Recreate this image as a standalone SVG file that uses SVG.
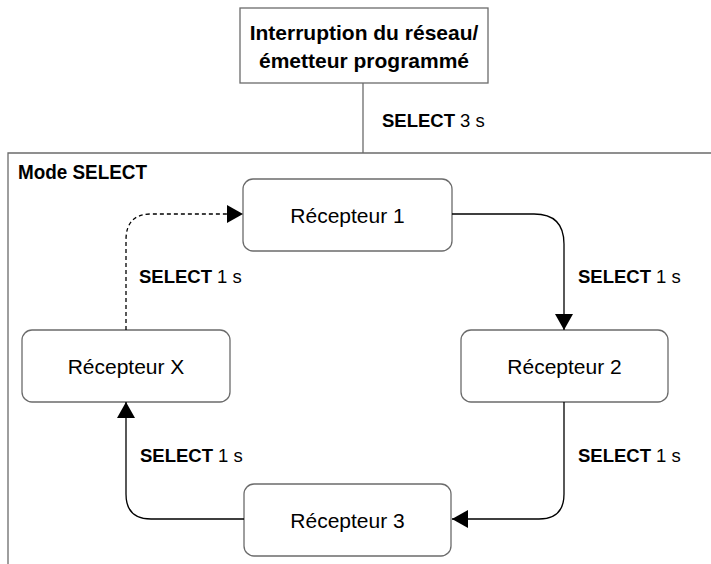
<svg xmlns="http://www.w3.org/2000/svg" width="711" height="564" viewBox="0 0 711 564">
<style>
text{font-family:"Liberation Sans",Arial,sans-serif;fill:#000}
.node{fill:#fff;stroke:#6b6b6b;stroke-width:1.3}
.title{font-size:21px;font-weight:bold}
.lbl{font-size:18.5px}
.b{font-weight:bold}
.nt{font-size:21px;text-anchor:middle}
.con{fill:none;stroke:#000;stroke-width:1.3}
.gray{fill:none;stroke:#6b6b6b;stroke-width:1.3}
</style>
<defs>
<marker id="arr" viewBox="0 0 16 18" refX="16" refY="9" markerWidth="16" markerHeight="18" markerUnits="userSpaceOnUse" orient="auto">
<path d="M0,0 L16,9 L0,18 Z" fill="#000"/>
</marker>
</defs>
<g id="container">
<path class="gray" d="M8,570 L8,153 L720,153"/>
<text x="18" y="179" class="b" style="font-size:20px" textLength="129" lengthAdjust="spacingAndGlyphs">Mode SELECT</text>
</g>
<g id="start">
<rect x="240" y="8" width="248" height="75" fill="#fff" stroke="#6b6b6b" stroke-width="1.3"/>
<text x="364" y="40" class="title" text-anchor="middle">Interruption du réseau/</text>
<text x="364" y="68" class="title" text-anchor="middle">émetteur programmé</text>
</g>
<g id="r1">
<rect class="node" x="243" y="179" width="209" height="72" rx="10"/>
<text class="nt" x="347.5" y="222.5">Récepteur 1</text>
</g>
<g id="r2">
<rect class="node" x="461" y="330" width="207" height="72" rx="10"/>
<text class="nt" x="564.5" y="373.5">Récepteur 2</text>
</g>
<g id="r3">
<rect class="node" x="244" y="484" width="207" height="72" rx="10"/>
<text class="nt" x="347.5" y="527.5">Récepteur 3</text>
</g>
<g id="rx">
<rect class="node" x="22" y="330" width="208" height="72" rx="10"/>
<text class="nt" x="126" y="373.5">Récepteur X</text>
</g>
<g id="connectors">
<path class="gray" d="M363,83 L363,153"/>
<path class="con" d="M452,214 L534,214 Q564,214 564,244 L564,330" marker-end="url(#arr)"/>
<path class="con" d="M564,402 L564,494 Q564,519 539,519 L452,519" marker-end="url(#arr)"/>
<path class="con" d="M244,519 L151,519 Q126,519 126,494 L126,402" marker-end="url(#arr)"/>
<path class="con" d="M126,330 L126,240 Q126,214 151,214 L243,214" stroke-dasharray="4 3" marker-end="url(#arr)"/>
</g>
<g id="labels">
<text class="lbl" x="382" y="127"><tspan class="b">SELECT</tspan> 3 s</text>
<text class="lbl" x="578" y="283"><tspan class="b">SELECT</tspan> 1 s</text>
<text class="lbl" x="139" y="283"><tspan class="b">SELECT</tspan> 1 s</text>
<text class="lbl" x="140" y="462"><tspan class="b">SELECT</tspan> 1 s</text>
<text class="lbl" x="578" y="462"><tspan class="b">SELECT</tspan> 1 s</text>
</g>
</svg>
